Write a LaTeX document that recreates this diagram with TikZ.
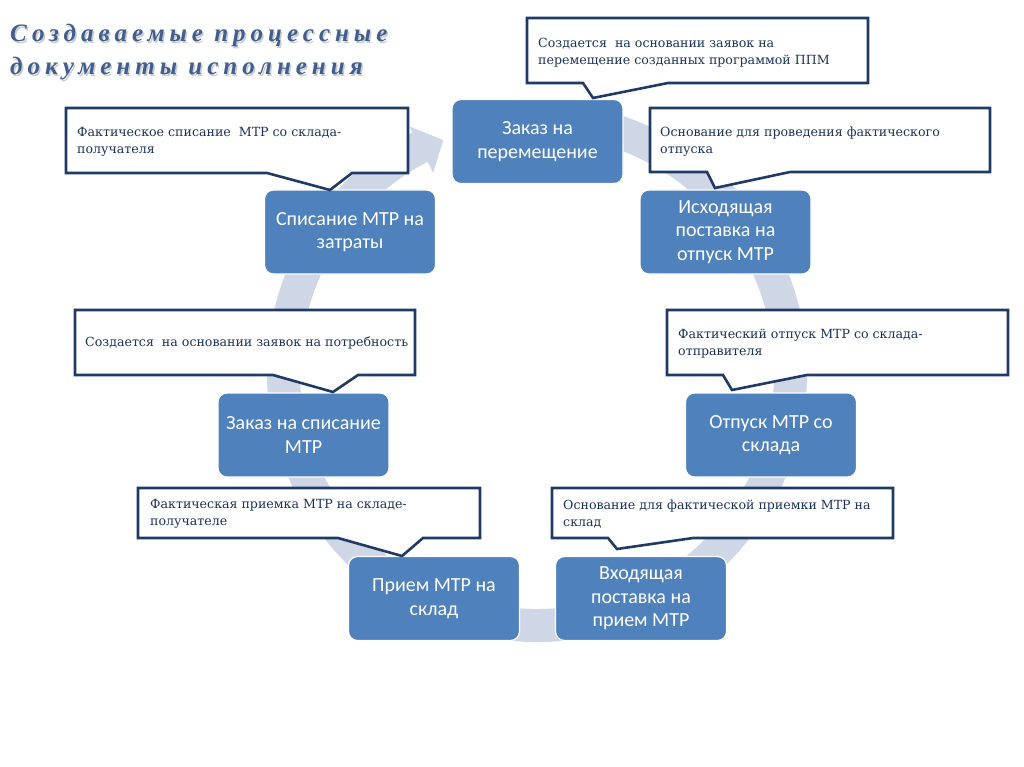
\documentclass[tikz,border=0pt]{standalone}
\usepackage{fontspec}
\setmainfont{DejaVu Serif}
\newfontfamily\boxfont{Carlito}
\newfontfamily\calfont{DejaVu Serif}
\newfontfamily\titlefont[LetterSpace=20]{Liberation Serif}
\definecolor{boxblue}{RGB}{79,129,189}
\definecolor{ringgray}{RGB}{207,214,229}
\definecolor{callborder}{RGB}{32,58,102}
\definecolor{calltext}{RGB}{28,50,90}
\definecolor{titleblue}{RGB}{66,94,140}
\definecolor{titleshadow}{RGB}{198,203,212}
\begin{document}
\begin{tikzpicture}[x=1pt,y=-1pt,
  stagebox/.style={rectangle, rounded corners=9pt, fill=boxblue, draw=white, line width=1.2pt,
    minimum width=171pt, minimum height=84pt, align=center, text=white,
    font=\boxfont\fontsize{20}{23.5}\selectfont, inner sep=2pt},
  calloutshape/.style={fill=white, draw=callborder, line width=2.6pt, line join=miter},
  callouttext/.style={anchor=west, align=left, text=calltext,
    font=\calfont\fontsize{12.6}{17}\selectfont, inner sep=0pt},
  titletext/.style={anchor=base west, inner sep=0pt, font=\titlefont\bfseries\itshape\fontsize{25}{30}\selectfont}]
\useasboundingbox (0,0) rectangle (1024,767);
\fill[white] (0,0) rectangle (1024,767);

% title
\node[titletext, text=titleshadow] (t1s) at (11.5,43.5) {Создаваемые процессные};
\node[titletext, text=titleshadow] (t2s) at (11.5,76.5) {документы исполнения};
\node[titletext, text=titleblue] (t1) at (10,42) {Создаваемые процессные};
\node[titletext, text=titleblue] (t2) at (10,75) {документы исполнения};

% circular arrow
\begin{scope}[shift={(537,372)}, yscale=-1]
\fill[ringgray] (80:270) arc[start angle=80, end angle=-242.5, radius=270]
  -- (117.5:277) -- (112:250) -- (117.5:225) -- (117.5:237)
  arc[start angle=-242.5, end angle=80, radius=237] -- cycle;
\end{scope}

% stage boxes
\node[stagebox] (z1) at (537.5,141.5) {Заказ на\\перемещение};
\node[stagebox] (s1) at (350,232) {Списание МТР на\\затраты};
\node[stagebox] (i1) at (725.5,232) {Исходящая\\поставка на\\отпуск МТР};
\node[stagebox] (z2) at (303.5,435) {Заказ на списание\\МТР};
\node[stagebox] (o1) at (771,435) {Отпуск МТР со\\склада};
\node[stagebox] (p1) at (434,598.5) {Прием МТР на\\склад};
\node[stagebox] (v1) at (641,598.5) {Входящая\\поставка на\\прием МТР};

% callouts
\filldraw[calloutshape] (527,18) -- (868,18) -- (868,83) -- (668,83) -- (593,98) -- (583,83) -- (527,83) -- cycle;
\node[callouttext] (ca) at (538,52.5) {Создается\ \ на основании заявок на\\перемещение созданных программой ППМ};

\filldraw[calloutshape] (66,108) -- (408,108) -- (408,173) -- (352,173) -- (330,190) -- (267,173) -- (66,173) -- cycle;
\node[callouttext] (cb) at (77,142) {Фактическое списание\ \ МТР со склада-\\получателя};

\filldraw[calloutshape] (650,108) -- (990,108) -- (990,172) -- (790,172) -- (715,188) -- (707,172) -- (650,172) -- cycle;
\node[callouttext] (cc) at (660,142) {Основание для проведения фактического\\отпуска};

\filldraw[calloutshape] (75,310) -- (415,310) -- (415,375) -- (358,375) -- (333,392) -- (273,375) -- (75,375) -- cycle;
\node[callouttext] (cd) at (85,343) {Создается\ \ на основании заявок на потребность};

\filldraw[calloutshape] (667,310) -- (1008,310) -- (1008,375) -- (807,375) -- (732,390) -- (723,375) -- (667,375) -- cycle;
\node[callouttext] (ce) at (678,344) {Фактический отпуск МТР со склада-\\отправителя};

\filldraw[calloutshape] (138,488) -- (480,488) -- (480,538) -- (423,538) -- (402,556) -- (338,538) -- (138,538) -- cycle;
\node[callouttext] (cf) at (150,514) {Фактическая приемка МТР на складе-\\получателе};

\filldraw[calloutshape] (552,488) -- (893,488) -- (893,538) -- (693,538) -- (617,549) -- (608,538) -- (552,538) -- cycle;
\node[callouttext] (cg) at (563,514) {Основание для фактической приемки МТР на\\склад};
\end{tikzpicture}
\end{document}
